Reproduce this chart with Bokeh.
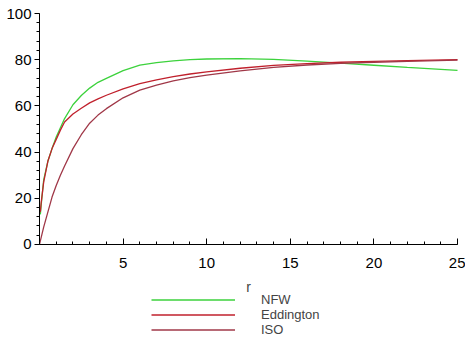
from bokeh.plotting import figure
from bokeh.models import Range1d, SingleIntervalTicker, Legend, LegendItem
from bokeh.embed import file_html
from bokeh.resources import INLINE

r_nfw = [0.05, 0.1, 0.25, 0.5, 0.75, 1, 1.25, 1.5, 2, 2.5, 3, 3.5, 4, 5, 6, 7, 8, 9, 10, 12, 14, 16, 18, 20, 22, 25]
v_nfw = [13, 17, 28, 36, 41.5, 46.5, 50.5, 54.5, 60.5, 64.5, 67.7, 70.2, 71.9, 75.3, 77.6, 78.7, 79.5, 80, 80.3, 80.5, 80.1, 79.4, 78.5, 77.6, 76.7, 75.4]

r_edd = [0.05, 0.1, 0.25, 0.5, 0.75, 1, 1.25, 1.5, 2, 2.5, 3, 3.5, 4, 5, 6, 7, 8, 9, 10, 12, 14, 16, 18, 20, 22, 25]
v_edd = [14, 18, 27, 36, 41.5, 45.5, 49.5, 53, 56.5, 59, 61.3, 63, 64.6, 67.4, 69.6, 71.3, 72.7, 73.8, 74.7, 76.3, 77.5, 78.3, 78.9, 79.3, 79.6, 80]

r_iso = [0, 0.25, 0.5, 0.75, 1, 1.25, 1.5, 2, 2.5, 3, 3.5, 4, 5, 6, 7, 8, 9, 10, 12, 14, 16, 18, 20, 22, 25]
v_iso = [0, 7.5, 14, 20.5, 25.5, 30, 34, 41.5, 47.5, 52.5, 56, 58.8, 63.5, 66.8, 69, 70.8, 72.2, 73.3, 75.2, 76.7, 77.7, 78.4, 78.9, 79.3, 79.8]

names = ["NFW", "Eddington", "ISO"]
colors = ["#3cd23c", "#c0202c", "#a03848"]

FONT = "Liberation Sans"

p = figure(frame_width=426, frame_height=324, output_backend="svg", toolbar_location=None,
           x_range=Range1d(0, 25.478), y_range=Range1d(-40.3, 100),
           min_border_left=39, min_border_top=13, min_border_right=0, min_border_bottom=0)
p.outline_line_color = None
p.grid.visible = False
p.background_fill_color = "white"

l1 = p.line(r_nfw, v_nfw, line_color=colors[0], line_width=1.3)
l2 = p.line(r_edd, v_edd, line_color=colors[1], line_width=1.3)
l3 = p.line(r_iso, v_iso, line_color=colors[2], line_width=1.3)

xa = p.xaxis[0]
xa.fixed_location = 0
xa.bounds = (0, 25)
xa.ticker = SingleIntervalTicker(interval=5, num_minor_ticks=5)
xa.major_label_overrides = {0: ""}
xa.major_tick_in = 6
xa.major_tick_out = 0
xa.minor_tick_in = 3
xa.minor_tick_out = 0
xa.axis_label = "r"
xa.axis_label_text_font_style = "normal"
xa.axis_label_text_font = FONT
xa.axis_label_text_font_size = "14px"
xa.axis_label_standoff = 7
xa.major_label_standoff = 14

ya = p.yaxis[0]
ya.bounds = (0, 100)
ya.ticker = SingleIntervalTicker(interval=20, num_minor_ticks=5)
ya.major_tick_in = 0
ya.major_tick_out = 5
ya.minor_tick_in = 0
ya.minor_tick_out = 3
ya.major_label_standoff = 3

for ax in (xa, ya):
    ax.axis_line_color = "black"
    ax.major_tick_line_color = "black"
    ax.minor_tick_line_color = "black"
    ax.major_label_text_font = FONT
    ax.major_label_text_font_size = "15px"
    ax.major_label_text_color = "black"

legend = Legend(items=[LegendItem(label=names[0], renderers=[l1]),
                       LegendItem(label=names[1], renderers=[l2]),
                       LegendItem(label=names[2], renderers=[l3])],
                location=(112, 0), orientation="vertical",
                glyph_width=84, glyph_height=13, label_height=13, spacing=0,
                padding=0, margin=0, label_standoff=26,
                label_text_font=FONT, label_text_font_size="13px",
                label_text_line_height=0.8,
                border_line_color=None, background_fill_alpha=0)
p.add_layout(legend, "center")

open("out.html", "w").write(file_html(p, INLINE))
